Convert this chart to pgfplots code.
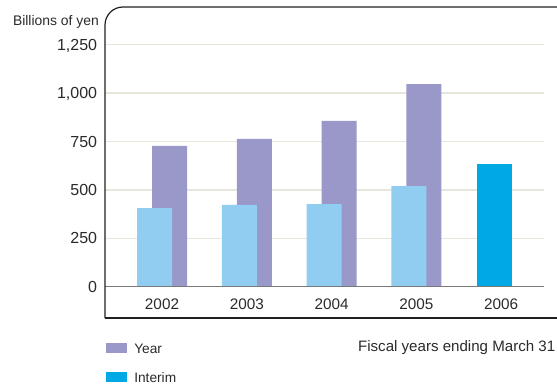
\documentclass[border=0pt]{standalone}
\usepackage{fontspec}
\setmainfont{Liberation Sans}
\usepackage{pgfplots}
\pgfplotsset{compat=1.18}

\definecolor{yearc}{HTML}{9A97C9}
\definecolor{interimc}{HTML}{91CDF0}
\definecolor{latestc}{HTML}{00A9E4}
\definecolor{gridc}{HTML}{E6E6DA}
\definecolor{basec}{HTML}{7A7A7A}
\definecolor{framec}{HTML}{231F20}
\definecolor{txt}{HTML}{2A2A2A}

\begin{document}
\begin{tikzpicture}[x=1bp,y=1bp]
\useasboundingbox (0,0) rectangle (557,386);
\begin{axis}[
  at={(105bp,68bp)}, anchor=south west,
  scale only axis, width=439bp, height=311bp,
  xmin=-0.6726, xmax=4.507, ymin=-162, ymax=1445,
  clip=false,
  axis line style={draw=none},
  major tick length=0pt,
  tick style={draw=none},
  ybar, bar width=35bp,
  xtick={0,1,2,3,4},
  xticklabels={2002,2003,2004,2005,2006},
  ytick={0,250,500,750,1000,1250},
  ymajorgrids,
  grid style={gridc, line width=1.5bp},
  /pgf/number format/assume math mode=true,
  /pgf/number format/1000 sep={,},
  yticklabel style={anchor=east, inner sep=0pt, text depth=0pt, xshift=-7.7bp,
    text=txt, font=\fontsize{16bp}{16bp}\selectfont},
  xticklabel style={anchor=center, inner sep=0pt, text depth=0pt, yshift=14.2bp,
    text=txt, font=\fontsize{15.3bp}{15.3bp}\selectfont},
  legend style={at={(0.00228,-0.0797)}, anchor=north west, draw=none, fill=none,
    inner sep=0pt, outer sep=0pt, row sep=18.1bp,
    cells={anchor=base west},
    nodes={inner sep=0pt, outer sep=0pt, text height=10.7bp, text depth=0pt, text=txt,
      font=\fontsize{13.7bp}{13.7bp}\selectfont},
    /tikz/every odd column/.append style={column sep=7.3bp}},
  legend image code/.code={%
    \path (0bp,0bp) rectangle (21bp,10.7bp);
    \fill[#1] (0bp,3bp) rectangle (21bp,10.7bp);},
]
% full-year results, drawn behind
\addplot[fill=yearc, draw=none, bar shift=7.5bp]
  coordinates {(0,727) (1,763) (2,856) (3,1047)};
\addlegendentry{Year}
% interim results of past years
\addplot[fill=interimc, draw=none, bar shift=-7.5bp, forget plot]
  coordinates {(0,406) (1,422) (2,427) (3,520)};
% latest interim result
\addplot[fill=latestc, draw=none, bar shift=-6.5bp]
  coordinates {(4,634)};
\addlegendentry{Interim}

% zero line
\draw[basec, line width=1.5bp] (axis cs:-0.6726,0) -- (axis cs:4.507,0);
% frame with rounded top-left corner
\draw[framec, line width=1.2bp, rounded corners=18bp]
  (rel axis cs:1.03,1) -- (rel axis cs:0,1) -- (rel axis cs:0,0);
\draw[framec, line width=1.8bp] (rel axis cs:0,0) -- (rel axis cs:1.03,0);
\end{axis}

\node[anchor=base east, inner sep=0pt, text=txt, font=\fontsize{13.9bp}{13.9bp}\selectfont]
  at (99bp,360.5bp) {Billions of yen};
\node[anchor=base east, inner sep=0pt, text=txt, font=\fontsize{15.1bp}{15.1bp}\selectfont]
  at (555.5bp,34.5bp) {Fiscal years ending March 31};
\end{tikzpicture}
\end{document}
